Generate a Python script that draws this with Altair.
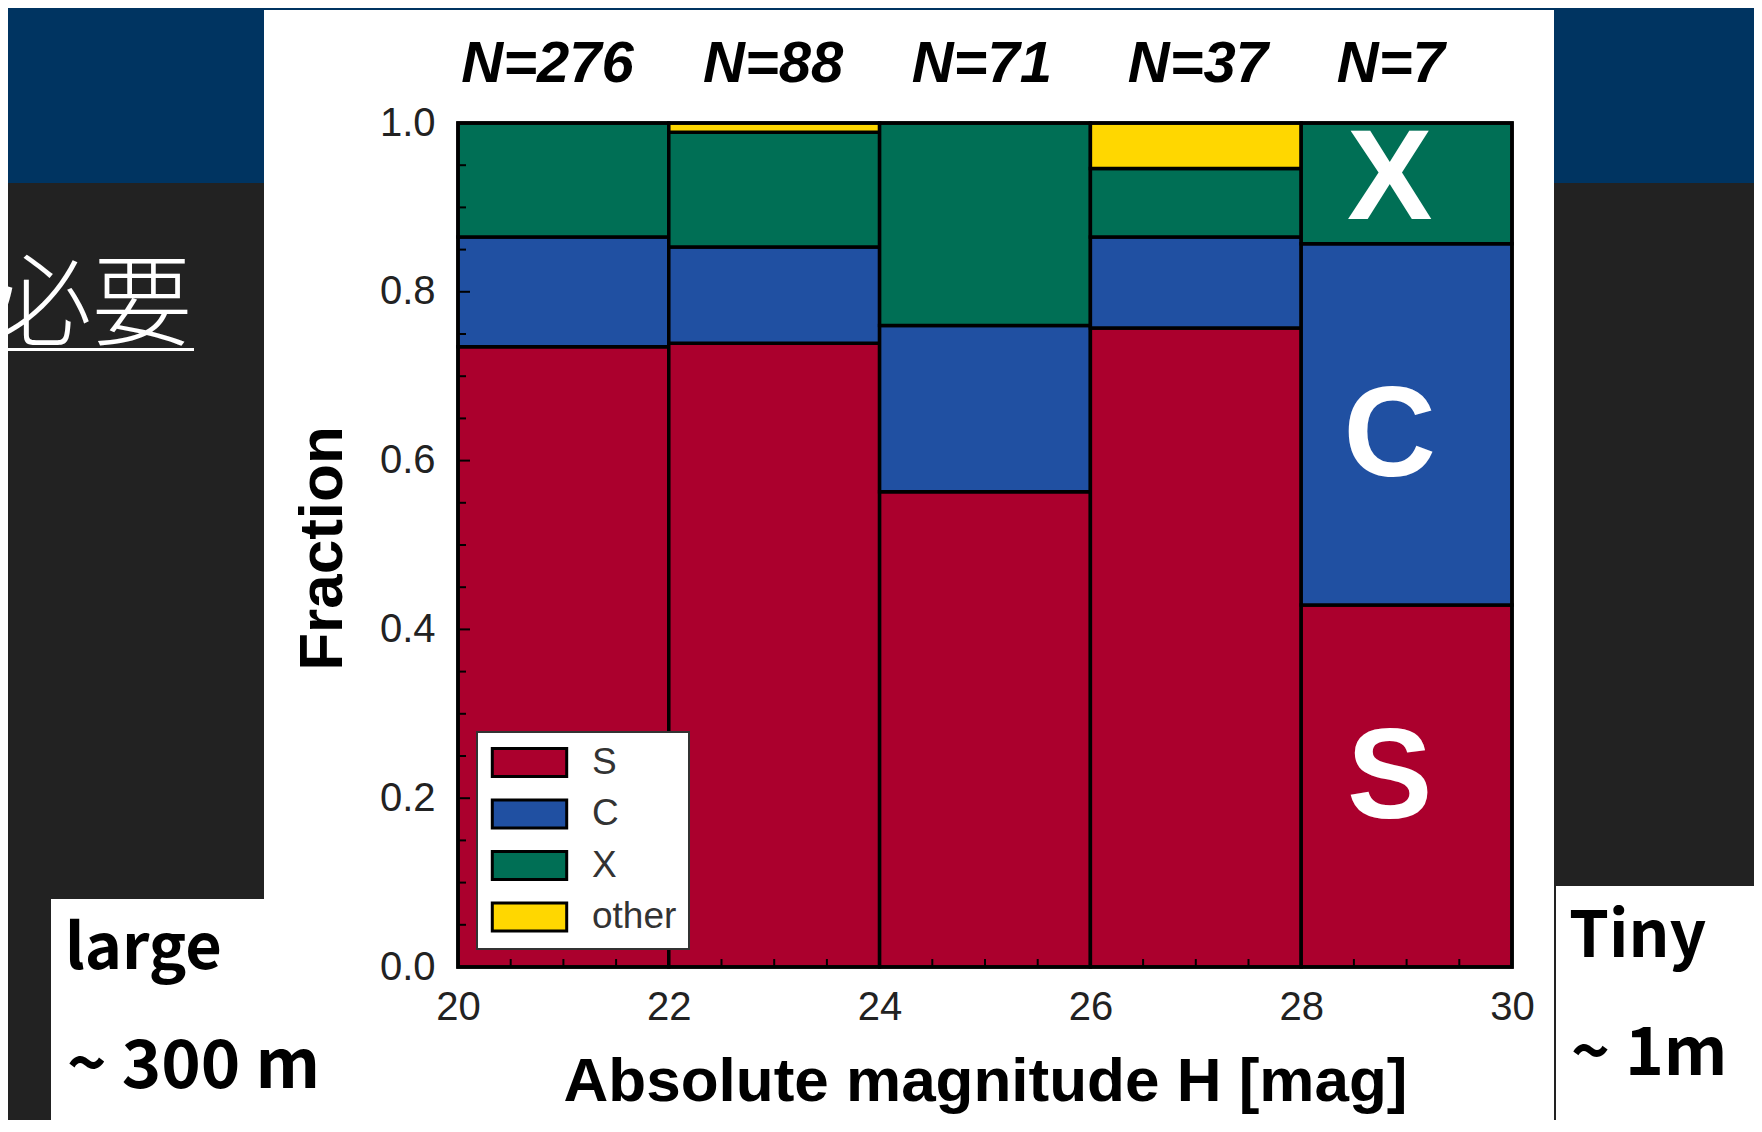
import altair as alt
import pandas as pd

# ---------------- data ----------------
bin_start = [20, 22, 24, 26, 28]
bin_end = [22, 24, 26, 28, 30]
types = ["S", "C", "X", "other"]
frac_S = [0.735, 0.739, 0.563, 0.757, 0.429]
frac_C = [0.130, 0.114, 0.197, 0.108, 0.428]
frac_X = [0.135, 0.136, 0.240, 0.081, 0.143]
frac_other = [0.0, 0.011, 0.0, 0.054, 0.0]
colors = ["#AB002D", "#2050A2", "#006F55", "#FFD700"]

n_labels = ["N=276", "N=88", "N=71", "N=37", "N=7"]
n_label_x = [20.85, 22.99, 24.97, 27.02, 28.85]

class_letters = ["X", "C", "S"]
class_letter_x = [28.84, 28.84, 28.84]
class_letter_y = [0.886, 0.582, 0.177]

x_tick_labels = [20, 22, 24, 26, 28, 30]
y_tick_labels = [0.0, 0.2, 0.4, 0.6, 0.8, 1.0]
x_minor_ticks = [20.5, 21, 21.5, 22.5, 23, 23.5, 24.5, 25, 25.5,
                 26.5, 27, 27.5, 28.5, 29, 29.5]
y_minor_ticks = [0.05, 0.1, 0.15, 0.25, 0.3, 0.35, 0.45, 0.5, 0.55,
                 0.65, 0.7, 0.75, 0.85, 0.9, 0.95]
y_major_ticks = [0.2, 0.4, 0.6, 0.8]

# ---------------- tables ----------------
rows = []
for i in range(len(bin_start)):
    base = 0.0
    for t, fr in zip(types, [frac_S[i], frac_C[i], frac_X[i], frac_other[i]]):
        if fr > 0:
            rows.append({"x0": bin_start[i], "x1": bin_end[i], "type": t,
                         "y0": base, "y1": base + fr})
        base += fr
df_bars = pd.DataFrame(rows)
df_n = pd.DataFrame({"x": n_label_x, "label": n_labels})
df_letters = pd.DataFrame({"x": class_letter_x, "y": class_letter_y, "label": class_letters})
dummy = pd.DataFrame({"a": [0]})

W, H = 1054, 844
FONT = "Liberation Sans"
JP = "Noto Sans CJK JP"
NAVY = "#003461"
GRAY = "#222222"

xs = alt.Scale(domain=[20, 30], nice=False, zero=False)
ys = alt.Scale(domain=[0, 1], nice=False)

x_axis = alt.Axis(
    values=x_tick_labels, format="d", title="Absolute magnitude H [mag]",
    ticks=False, domain=False, grid=False, labelFont=FONT, labelFontSize=40,
    labelColor="#222", labelPadding=20, labelFlush=False,
    titleFont=FONT, titleFontSize=62, titleFontWeight="bold", titleColor="black",
    titleX=W / 2, titleY=133, titleBaseline="alphabetic", titleAlign="center",
    zindex=1)
y_axis = alt.Axis(
    values=y_tick_labels, format=".1f", title="Fraction",
    ticks=False, domain=False, grid=False, labelFont=FONT, labelFontSize=40,
    labelColor="#222", labelPadding=23, labelFlush=False,
    titleFont=FONT, titleFontSize=62, titleFontWeight="bold", titleColor="black",
    titleAngle=270, titleX=-117, titleY=425, titleBaseline="alphabetic",
    titleAlign="center", zindex=1)


def deco_rect(x, x2, y, y2, color):
    return alt.Chart(dummy).mark_rect(color=color).encode(
        x=alt.value(x), x2=alt.value(x2), y=alt.value(y), y2=alt.value(y2))


def deco_text(txt, x, y, size, weight, color, font, align="left"):
    return alt.Chart(dummy).mark_text(
        text=txt, align=align, baseline="alphabetic", font=font,
        fontSize=size, fontWeight=weight, color=color).encode(
        x=alt.value(x), y=alt.value(y))


# slide decorations (page background is white; dark regions drawn around the panel)
decor = [
    deco_rect(-450, -194, -115, 60, NAVY),
    deco_rect(1096, 1296, -115, 60, NAVY),
    deco_rect(-194, 1096, -115, -113, NAVY),
    deco_rect(-450, -194, 60, 776, GRAY),
    deco_rect(-450, -407, 776, 1000, GRAY),
    deco_rect(1096, 1296, 60, 763, GRAY),
    deco_rect(1096, 1098, 763, 1000, GRAY),
    deco_rect(-450, -264, 225, 228, "white"),
    deco_text("必要", -266, 215, 100, 300, "white", JP, align="right"),
    deco_text("large", -393, 846, 63, "bold", "black", JP),
    deco_text("~ 300 m", -391, 965, 67, "bold", "black", JP),
    deco_text("Tiny", 1111, 834, 64, "bold", "black", JP),
    deco_text("~ 1m", 1113, 952, 66, "bold", "black", JP),
]

# stacked fractions
bars = alt.Chart(df_bars).mark_rect(stroke="black", strokeWidth=3.5).encode(
    x=alt.X("x0:Q", scale=xs, axis=x_axis),
    x2="x1:Q",
    y=alt.Y("y0:Q", scale=ys, axis=y_axis),
    y2="y1:Q",
    color=alt.Color("type:N", scale=alt.Scale(domain=types, range=colors),
                    legend=alt.Legend(
                        orient="none", legendX=19, legendY=609, title=None,
                        fillColor="white", strokeColor="#333", padding=12,
                        rowPadding=10.5, symbolType="M-2.48,-0.933H2.48V0.933H-2.48Z",
                        symbolSize=900, symbolOffset=22, symbolStrokeColor="black",
                        symbolStrokeWidth=3, labelFont=FONT, labelFontSize=37,
                        labelColor="#333", labelOffset=44)),
)

# inward ticks
y_minor = alt.Chart(pd.DataFrame({"v": y_minor_ticks})).mark_rule(
    color="black", strokeWidth=2).encode(
    y=alt.Y("v:Q", scale=ys, axis=y_axis), x=alt.value(0), x2=alt.value(8))
y_major = alt.Chart(pd.DataFrame({"v": y_major_ticks})).mark_rule(
    color="black", strokeWidth=2).encode(
    y=alt.Y("v:Q", scale=ys, axis=y_axis), x=alt.value(0), x2=alt.value(12))
x_minor = alt.Chart(pd.DataFrame({"v": x_minor_ticks})).mark_rule(
    color="black", strokeWidth=2).encode(
    x=alt.X("v:Q", scale=xs, axis=x_axis), y=alt.value(H), y2=alt.value(H - 8))

frame = alt.Chart(dummy).mark_rect(fillOpacity=0, stroke="black", strokeWidth=3.5).encode(
    x=alt.value(0), x2=alt.value(W), y=alt.value(0), y2=alt.value(H))

n_text = alt.Chart(df_n).mark_text(
    font=FONT, fontSize=58, fontWeight="bold", fontStyle="italic",
    baseline="alphabetic", align="center", color="black").encode(
    x=alt.X("x:Q", scale=xs, axis=x_axis), y=alt.value(-41), text="label:N")

letters = alt.Chart(df_letters).mark_text(
    font=FONT, fontSize=128, fontWeight="bold", baseline="alphabetic",
    align="center", color="white").encode(
    x=alt.X("x:Q", scale=xs, axis=x_axis),
    y=alt.Y("y:Q", scale=ys, axis=y_axis), text="label:N")

chart = alt.layer(
    *decor, bars, y_minor, y_major, x_minor, frame, n_text, letters,
).properties(
    width=W, height=H,
    autosize=alt.AutoSizeParams(type="none"),
    padding={"left": 450, "top": 115, "right": 242, "bottom": 153},
).configure(background="white").configure_view(strokeWidth=0).configure_legend(
    strokeWidth=2)

chart.save("out.html", embed_options={"renderer": "svg", "actions": False})
